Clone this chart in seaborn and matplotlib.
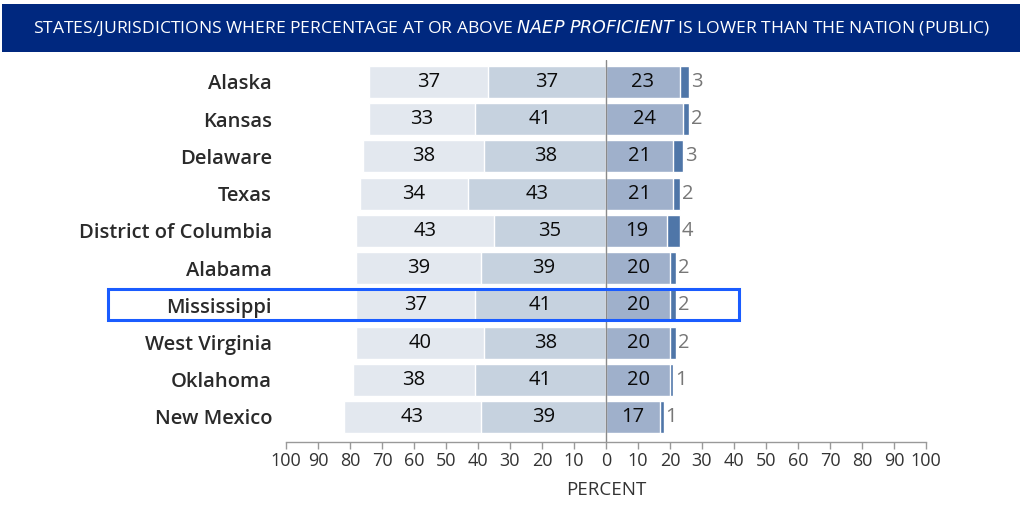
import matplotlib
matplotlib.use("Agg")
import matplotlib.pyplot as plt
import seaborn as sns
import pandas as pd
from matplotlib.patches import Rectangle

states = ["Alaska", "Kansas", "Delaware", "Texas", "District of Columbia",
          "Alabama", "Mississippi", "West Virginia", "Oklahoma", "New Mexico"]
below_basic = [37, 33, 38, 34, 43, 39, 37, 40, 38, 43]
basic = [37, 41, 38, 43, 35, 39, 41, 38, 41, 39]
proficient = [23, 24, 21, 21, 19, 20, 20, 20, 20, 17]
advanced = [3, 2, 3, 2, 4, 2, 2, 2, 1, 1]
xticks = list(range(-100, 101, 10))
xtick_labels = [str(abs(v)) for v in xticks]
highlight = "Mississippi"
title = "STATES/JURISDICTIONS WHERE PERCENTAGE AT OR ABOVE $\\it{NAEP\\ PROFICIENT}$ IS LOWER THAN THE NATION (PUBLIC)"

df = pd.DataFrame({"state": states, "bb": below_basic, "b": basic,
                   "p": proficient, "a": advanced})
df["left_total"] = -(df["bb"] + df["b"])
df["left_basic"] = -df["b"]
df["right_total"] = df["p"] + df["a"]
df["right_prof"] = df["p"]

sns.set_theme(style="white")
plt.rcParams["font.family"] = ["Open Sans", "DejaVu Sans"]

fig = plt.figure(figsize=(10.23, 5.05), dpi=100)
ax = fig.add_axes([286 / 1023, 1 - 442 / 505, 640 / 1023, 382 / 505])

c_bb = "#E3E8EF"
c_b = "#C6D2DF"
c_p = "#9FB0CB"
c_a = "#4F76A8"
bar_h = 0.86
vsize = 14.5

sns.barplot(data=df, x="left_total", y="state", orient="h", color=c_bb,
            width=bar_h, saturation=1, ax=ax)
sns.barplot(data=df, x="left_basic", y="state", orient="h", color=c_b,
            width=bar_h, saturation=1, ax=ax)
sns.barplot(data=df, x="right_total", y="state", orient="h", color=c_a,
            width=bar_h, saturation=1, ax=ax)
sns.barplot(data=df, x="right_prof", y="state", orient="h", color=c_p,
            width=bar_h, saturation=1, ax=ax)

for i, r in df.iterrows():
    ax.text(-(r["b"] + r["bb"] / 2), i, str(r["bb"]), ha="center", va="center",
            fontsize=vsize, color="#0a0a0a")
    ax.text(-r["b"] / 2, i, str(r["b"]), ha="center", va="center",
            fontsize=vsize, color="#0a0a0a")
    ax.text(r["p"] / 2, i, str(r["p"]), ha="center", va="center",
            fontsize=vsize, color="#0a0a0a")
    ax.text(r["p"] + r["a"] + 0.6, i, str(r["a"]), ha="left", va="center",
            fontsize=vsize, color="#777777")

ax.axvline(0, color="#8a8a8a", lw=1, zorder=5)

ax.set_xlim(-100, 100)
ax.set_ylim(9.672, -0.59)
ax.set_xticks(xticks)
ax.set_xticklabels(xtick_labels, fontsize=13, color="#333333")
ax.set_xlabel("PERCENT", fontsize=13.5, color="#333333", labelpad=8)
ax.set_ylabel("")
ax.tick_params(axis="y", length=0, pad=10, labelsize=14.5, labelcolor="#2a2a2a")
for lab in ax.get_yticklabels():
    lab.set_fontweight("semibold")
ax.tick_params(axis="x", length=5, width=1, color="#999999", direction="out",
               pad=2, bottom=True)
for s in ["top", "left", "right"]:
    ax.spines[s].set_visible(False)
ax.spines["bottom"].set_color("#999999")
ax.spines["bottom"].set_linewidth(1)

# highlight box
y_top = 1 - 289 / 505
y_bot = 1 - 320 / 505
fig.patches.append(Rectangle((108 / 1023, y_bot), (739 - 108) / 1023, y_top - y_bot,
                             transform=fig.transFigure, fill=False,
                             edgecolor="#1A5CFF", lw=2.2, zorder=10))

# title banner
fig.patches.append(Rectangle((2 / 1023, 1 - 52 / 505), 1018 / 1023, 48 / 505,
                             transform=fig.transFigure, facecolor="#00287F",
                             edgecolor="none", zorder=0))
fig.text(0.5, 1 - 28 / 505, title, ha="center", va="center", color="white",
         fontsize=12.6)

fig.savefig("out.png", dpi=100)
